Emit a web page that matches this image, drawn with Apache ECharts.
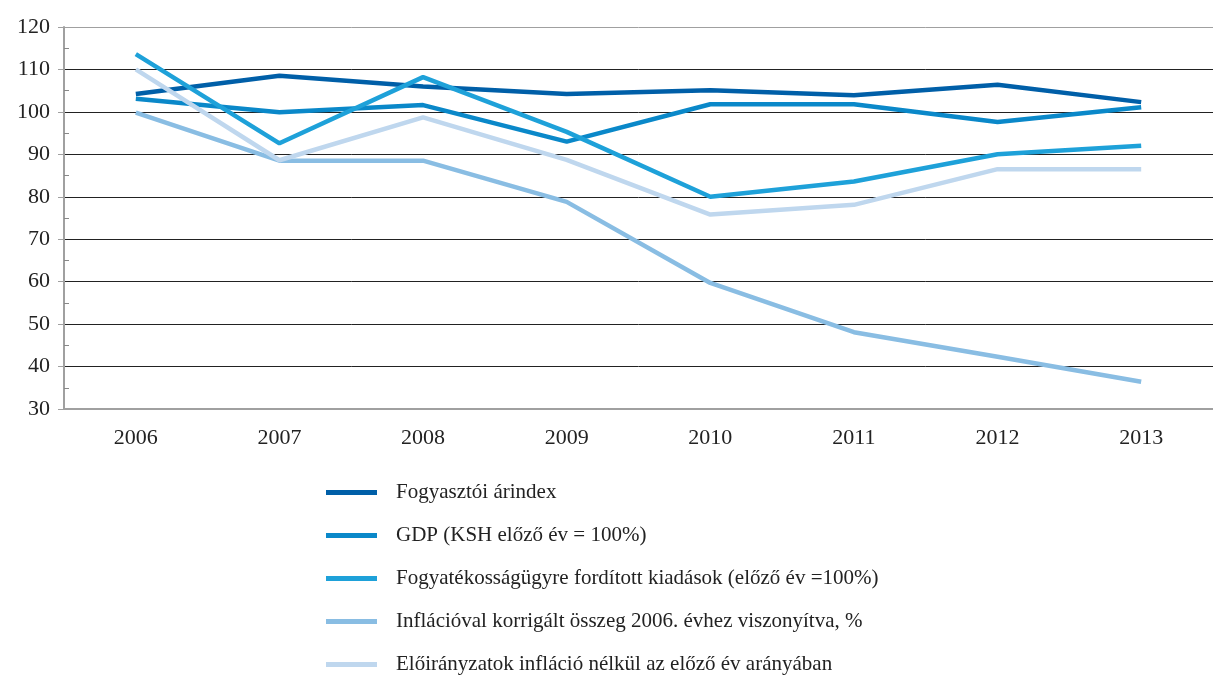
<!DOCTYPE html>
<html>
<head>
<meta charset="utf-8">
<script src="https://cdn.jsdelivr.net/npm/echarts@6/dist/echarts.min.js"></script>
<style>html,body{margin:0;padding:0;background:#fff;}#c{width:1213px;height:677px;}</style>
</head>
<body>
<div id="c"></div>
<script>
const years = ['2006','2007','2008','2009','2010','2011','2012','2013'];
const seriesNames = [
  'Fogyasztói árindex',
  'GDP (KSH előző év = 100%)',
  'Fogyatékosságügyre fordított kiadások (előző év =100%)',
  'Inflációval korrigált összeg 2006. évhez viszonyítva, %',
  'Előirányzatok infláció nélkül az előző év arányában'
];
const arindex = [104.2, 108.5, 106.0, 104.2, 105.1, 103.9, 106.4, 102.3];
const gdp = [103.1, 99.9, 101.6, 93.0, 101.8, 101.8, 97.6, 101.1];
const kiadasok = [113.6, 92.6, 108.2, 95.3, 80.0, 83.6, 90.0, 92.0];
const inflKorr = [99.8, 88.5, 88.5, 78.8, 59.7, 48.1, 42.3, 36.4];
const eloiranyzat = [110.0, 88.6, 98.7, 88.7, 75.8, 78.1, 86.5, 86.5];
const colors = ['#005fa8', '#0a88c9', '#1ea1d9', '#89bde3', '#bfd7ee'];
const values = [arindex, gdp, kiadasok, inflKorr, eloiranyzat];
const font = 'Liberation Serif';

const chart = echarts.init(document.getElementById('c'));
chart.setOption({
  animation: false,
  backgroundColor: '#fff',
  grid: { left: 64, top: 27, width: 1164, height: 382, containLabel: false },
  legend: {
    orient: 'vertical',
    left: 326,
    top: 482,
    bottom: 0,
    padding: 0,
    icon: 'rect',
    itemWidth: 51,
    itemHeight: 5,
    itemGap: 22,
    textStyle: { fontFamily: font, fontSize: 21, color: '#222', lineHeight: 21, padding: [0, 0, 0, 14] },
    data: seriesNames
  },
  xAxis: {
    type: 'category',
    data: years,
    boundaryGap: true,
    axisLine: { lineStyle: { color: '#a0a0a0', width: 2 } },
    axisTick: { show: false },
    axisLabel: { fontFamily: font, fontSize: 22, color: '#222', margin: 18 }
  },
  yAxis: [{
    type: 'value',
    min: 30, max: 120, interval: 10,
    axisLine: { show: true, lineStyle: { color: '#a0a0a0', width: 2 } },
    axisTick: { show: true, length: 6, lineStyle: { color: '#a0a0a0', width: 1 } },
    axisLabel: { fontFamily: font, fontSize: 22, color: '#222', margin: 14, padding: [0, 0, 3, 0] },
    splitLine: { show: true, lineStyle: { color: ['#a0a0a0', '#222', '#222', '#222', '#222', '#222', '#222', '#222', '#222', '#a0a0a0'], width: 1 } }
  }, {
    type: 'value',
    position: 'left',
    min: 30, max: 120, interval: 10,
    axisLine: { show: false },
    axisTick: { show: false, inside: true },
    minorTick: { show: true, splitNumber: 2, length: 5, lineStyle: { color: '#888', width: 1 } },
    axisLabel: { show: false },
    splitLine: { show: false }
  }],
  series: seriesNames.map((n, i) => ({
    name: n,
    type: 'line',
    data: values[i],
    symbol: 'none',
    color: colors[i],
    lineStyle: { width: 4.5, color: colors[i] }
  }))
});
</script>
</body>
</html>
